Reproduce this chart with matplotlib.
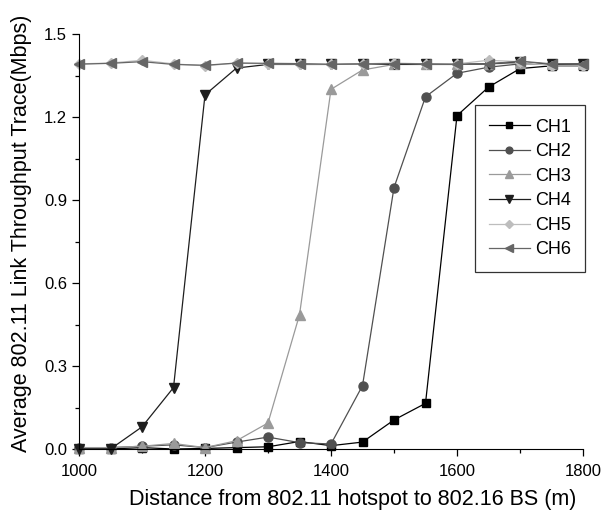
import matplotlib
matplotlib.use("Agg")
import matplotlib.pyplot as plt
from matplotlib.ticker import MultipleLocator, FormatStrFormatter

plt.rcParams["font.family"] = ["Liberation Sans", "DejaVu Sans"]

# distance (m)
distance = [1000, 1050, 1100, 1150, 1200, 1250, 1300, 1350, 1400,
            1450, 1500, 1550, 1600, 1650, 1700, 1750, 1800]

# average throughput (Mbps)
ch1 = [0.000, 0.000, 0.005, 0.000, 0.002, 0.005, 0.008, 0.027, 0.012,
       0.025, 0.105, 0.165, 1.205, 1.308, 1.375, 1.385, 1.385]
ch2 = [0.005, 0.005, 0.010, 0.015, 0.005, 0.025, 0.043, 0.023, 0.018,
       0.229, 0.945, 1.273, 1.358, 1.380, 1.392, 1.392, 1.392]
ch3 = [0.005, 0.005, 0.010, 0.020, 0.005, 0.030, 0.094, 0.485, 1.300,
       1.370, 1.390, 1.392, 1.392, 1.392, 1.395, 1.392, 1.392]
ch4 = [0.000, 0.000, 0.080, 0.222, 1.280, 1.377, 1.390, 1.390, 1.390,
       1.392, 1.390, 1.390, 1.390, 1.392, 1.400, 1.390, 1.392]
ch5 = [1.392, 1.395, 1.405, 1.392, 1.385, 1.395, 1.392, 1.392, 1.390,
       1.392, 1.395, 1.392, 1.392, 1.405, 1.400, 1.385, 1.385]
ch6 = [1.391, 1.394, 1.400, 1.390, 1.387, 1.395, 1.394, 1.393, 1.390,
       1.392, 1.393, 1.392, 1.390, 1.392, 1.402, 1.392, 1.392]

SERIES = [
    ("CH1", ch1, "s", "#000000", 5.5),
    ("CH2", ch2, "o", "#505050", 6.5),
    ("CH3", ch3, "^", "#9a9a9a", 7),
    ("CH4", ch4, "v", "#1e1e1e", 7),
    ("CH5", ch5, "D", "#bdbdbd", 5.5),
    ("CH6", ch6, "<", "#666666", 7),
]

fig = plt.figure(figsize=(6.06, 5.15), dpi=100)
ax = fig.add_axes([79 / 606, 1 - 449 / 515, 504 / 606, 415 / 515])

for label, vals, mk, col, ms in SERIES:
    ax.plot(distance, vals, "-", color=col, lw=0.9, marker=mk, ms=ms,
            mfc=col, mec=col, label=label, clip_on=False)

ax.set_xlim(1000, 1800)
ax.set_ylim(0.0, 1.5)
ax.xaxis.set_major_locator(MultipleLocator(200))
ax.xaxis.set_minor_locator(MultipleLocator(100))
ax.yaxis.set_major_locator(MultipleLocator(0.3))
ax.yaxis.set_minor_locator(MultipleLocator(0.15))
ax.yaxis.set_major_formatter(FormatStrFormatter("%.1f"))
ax.spines["top"].set_visible(False)
ax.spines["right"].set_visible(False)
ax.tick_params(which="major", direction="out", length=5, width=0.9,
               labelsize=12)
ax.tick_params(axis="x", which="major", pad=6)
ax.tick_params(which="minor", direction="out", length=3, width=0.9)

fig.text(353 / 606, 1 - 500 / 515,
         "Distance from 802.11 hotspot to 802.16 BS (m)",
         fontsize=15.5, ha="center", va="center")
fig.text(22 / 606, 1 - 233 / 515,
         "Average 802.11 Link Throughput Trace(Mbps)",
         fontsize=15.5, ha="center", va="center", rotation=90)

leg = ax.legend(loc="upper right", bbox_to_anchor=(1.004, 0.829),
                borderaxespad=0.0, fontsize=13, frameon=True,
                fancybox=False, numpoints=1, markerscale=0.75,
                handlelength=2.3, borderpad=0.75, labelspacing=0.42,
                handletextpad=0.3)
leg.get_frame().set_edgecolor("#000000")
leg.get_frame().set_linewidth(0.9)

fig.savefig("out.png", dpi=100)
